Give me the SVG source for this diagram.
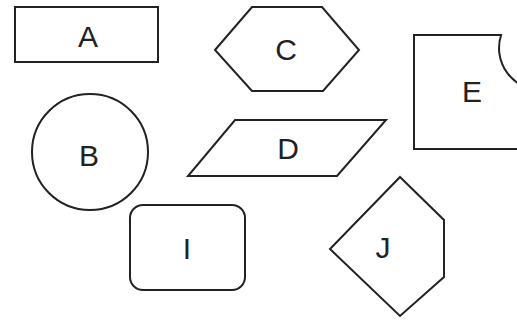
<svg xmlns="http://www.w3.org/2000/svg" width="517" height="323" viewBox="0 0 517 323">
<style>
.s{fill:#fff;stroke:#222;stroke-width:2;stroke-linejoin:miter}
.t{font-family:"Liberation Sans",Arial,sans-serif;font-size:30px;fill:#222;text-anchor:middle}
</style>
<rect width="517" height="323" fill="#fff"/>
<g id="A"><rect class="s" x="15" y="7" width="143" height="55"/><text class="t" x="88" y="47">A</text></g>
<g id="C"><polygon class="s" points="215,50 252,7 322,7 359,50 323,91 252,91"/><text class="t" x="286" y="60">C</text></g>
<g id="E"><path class="s" d="M501.1,35 L414,35 L414,149 L560,149 L560,90 L541,90 A42,42 0 0 1 501.1,35 Z"/><text class="t" x="472" y="102">E</text></g>
<g id="B"><circle class="s" cx="90" cy="152" r="58"/><text class="t" x="89" y="166">B</text></g>
<g id="D"><polygon class="s" points="235,120 386,120 337,176 188,176"/><text class="t" x="288" y="159">D</text></g>
<g id="I"><rect class="s" x="130" y="205" width="115" height="85" rx="13" ry="13"/><text class="t" x="187" y="259">I</text></g>
<g id="J"><polygon class="s" points="400,177 444,220 444,277 400,316 330,249"/><text class="t" x="383" y="258">J</text></g>
<g id="connectors"></g>
</svg>
